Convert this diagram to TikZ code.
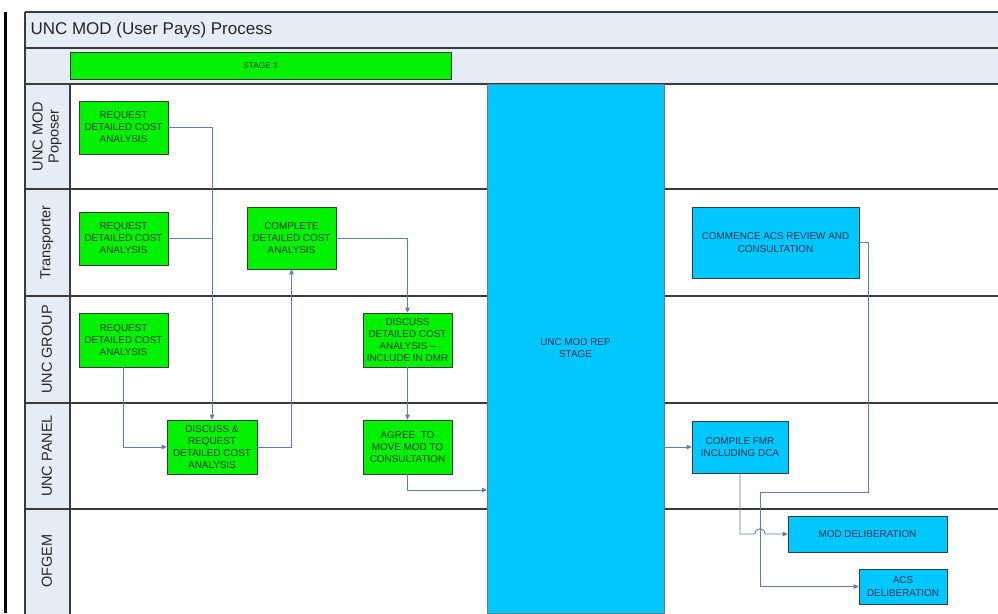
\documentclass[tikz,border=0pt]{standalone}
\usepackage{fontspec}
\setmainfont{Liberation Sans}
\usetikzlibrary{arrows.meta}
\definecolor{band}{HTML}{E6ECF6}
\definecolor{gbox}{HTML}{00F200}
\definecolor{cbox}{HTML}{00C8FF}
\definecolor{flowc}{HTML}{5B7DC0}
\definecolor{framec}{HTML}{3A3A3A}
\definecolor{gtext}{HTML}{1C3A1C}
\definecolor{ctext}{HTML}{123050}
\tikzset{
  frameline/.style={draw=framec, line width=1.1pt},
  greenbox/.style={draw=framec, line width=0.6pt, fill=gbox, text=gtext, inner sep=0pt, align=center,
     font=\fontsize{9.9}{12}\selectfont},
  cyanbox/.style={draw=framec, line width=0.6pt, fill=cbox, text=ctext, inner sep=0pt, align=center,
     font=\fontsize{9.9}{12.5}\selectfont},
  lanelabel/.style={rotate=90, align=center, text=black!85, font=\fontsize{14.5}{15}\selectfont},
  flow/.style={draw=flowc, line width=0.9pt, -{Triangle[length=5pt,width=4.5pt]}},
  plainflow/.style={draw=flowc, line width=0.9pt}
}
\begin{document}
\begin{tikzpicture}[x=1pt,y=-1pt]
\useasboundingbox (0,0) rectangle (998,613);
\clip (0,0) rectangle (998,613);
\fill[white] (0,0) rectangle (998,613);
% left black bar
\fill[black] (4,12) rectangle (7,613);
% bands
\fill[band] (25,12) rectangle (1005,84);
\fill[band] (25,84) rectangle (70,620);
% frame lines
\draw[frameline] (25,12) -- (1005,12);
\draw[frameline] (25,48) -- (1005,48);
\draw[frameline] (25,84) -- (1005,84);
\draw[frameline] (25,189) -- (1005,189);
\draw[frameline] (25,296) -- (1005,296);
\draw[frameline] (25,403) -- (1005,403);
\draw[frameline] (25,509) -- (1005,509);
\draw[frameline] (25,12) -- (25,620);
\draw[frameline] (70,84) -- (70,620);
% title
\node[anchor=west, font=\fontsize{17}{18}\selectfont, text=black!85] (title) at (27,30) {UNC MOD (User Pays) Process};
% stage bar
\node[greenbox, minimum width=381pt, minimum height=27pt, font=\fontsize{8.3}{10}\selectfont] (stage) at (260.5,65.5) {STAGE 3};
% lane labels
\node[lanelabel, font=\fontsize{14.5}{16}\selectfont] (l1) at (47,136.5) {UNC MOD\\Poposer};
\node[lanelabel] (l2) at (47,242.5) {Transporter};
\node[lanelabel] (l3) at (47,349.5) {UNC GROUP};
\node[lanelabel] (l4) at (47,456) {UNC PANEL};
\node[lanelabel] (l5) at (47,561) {OFGEM};
% rep stage bar
\node[draw=framec!70, line width=0.6pt, fill=cbox, text=ctext, align=center, inner sep=0pt,
      minimum width=177pt, minimum height=529pt, font=\fontsize{9.9}{12}\selectfont] (rep) at (575.5,348.5) {UNC MOD REP\\STAGE};
% green boxes
\node[greenbox, minimum width=89pt, minimum height=53pt] (req1) at (123.5,127.5) {REQUEST\\DETAILED COST\\ANALYSIS};
\node[greenbox, minimum width=89pt, minimum height=53pt] (req2) at (123.5,238.5) {REQUEST\\DETAILED COST\\ANALYSIS};
\node[greenbox, minimum width=89pt, minimum height=54pt] (req3) at (123.5,340) {REQUEST\\DETAILED COST\\ANALYSIS};
\node[greenbox, minimum width=90pt, minimum height=54pt] (disc) at (212,447) {DISCUSS \&\\REQUEST\\DETAILED COST\\ANALYSIS};
\node[greenbox, minimum width=89pt, minimum height=62pt] (comp) at (291.5,238) {COMPLETE\\DETAILED COST\\ANALYSIS};
\node[greenbox, minimum width=89pt, minimum height=54pt] (dmr) at (407.5,340) {DISCUSS\\DETAILED COST\\ANALYSIS –\\INCLUDE IN DMR};
\node[greenbox, minimum width=89pt, minimum height=54pt] (agree) at (407.5,447) {AGREE\ \ TO\\MOVE MOD TO\\CONSULTATION};
% cyan boxes
\node[cyanbox, minimum width=167pt, minimum height=71pt] (comm) at (775.5,242.5) {COMMENCE ACS REVIEW AND\\CONSULTATION};
\node[cyanbox, minimum width=96pt, minimum height=52pt] (compile) at (740,447) {COMPILE FMR\\INCLUDING DCA};
\node[cyanbox, minimum width=159pt, minimum height=36pt] (modd) at (867.5,534) {MOD DELIBERATION};
\node[cyanbox, minimum width=88pt, minimum height=35pt] (acs) at (903,586.5) {ACS\\DELIBERATION};
% helper coordinates
\coordinate (repin) at (487,490);
\coordinate (j1) at (755,534);
\coordinate (j2) at (765,534);
\coordinate (b1) at (868,492);
\coordinate (b2) at (760,586.5);
% connectors
\draw[flow] (req1.east) -| (disc.north);
\draw[plainflow] (req2.east) -- (req2.east -| disc.north);
\draw[flow] (req3.south) |- (disc.west);
\draw[flow] (disc.east) -| (comp.south);
\draw[flow] (comp.east) -| (dmr.north);
\draw[flow] (dmr.south) -- (agree.north);
\draw[flow] (agree.south) |- (repin);
\draw[flow] (rep.east |- compile.west) -- (compile.west);
\draw[flow] (comm.east) -| (b1) -| (b2) -- (acs.west);
\draw[flow] (compile.south) |- (j1) .. controls (755,527) and (765,527) .. (j2) -- (modd.west);
\end{tikzpicture}
\end{document}
